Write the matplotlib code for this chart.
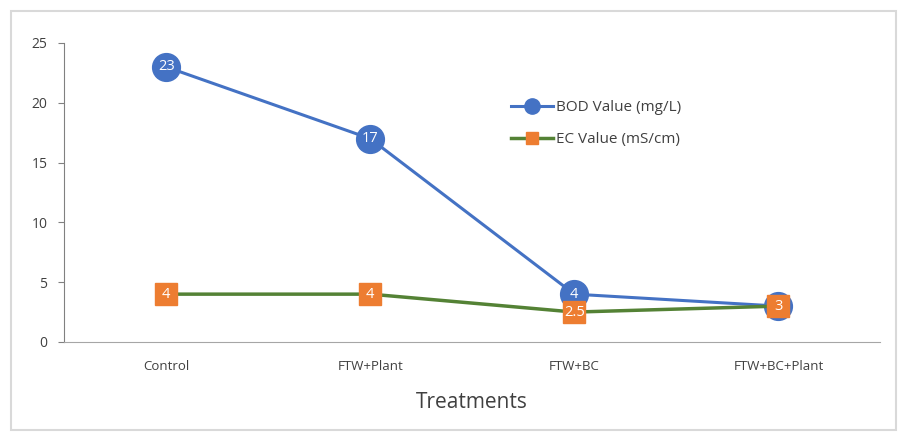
import matplotlib.pyplot as plt
from matplotlib.patches import Rectangle

treatments = ['Control', 'FTW+Plant', 'FTW+BC', 'FTW+BC+Plant']
bod = [23, 17, 4, 3]
ec = [4, 4, 2.5, 3]
ec_labels = ['4', '4', '2.5', '3']

plt.rcParams['font.family'] = ['Open Sans', 'DejaVu Sans']

fig = plt.figure(figsize=(9.03, 4.34), dpi=100)
fig.patches.append(Rectangle((0.012, 0.01), 0.98, 0.965, transform=fig.transFigure,
                             fill=False, edgecolor='#d9d9d9', linewidth=1.5))
ax = fig.add_axes([0.071, 0.212, 0.904, 0.689])

x = range(len(treatments))
ax.plot(x, bod, color='#4472C4', linewidth=2.2, marker='o', markersize=20,
        markerfacecolor='#4472C4', markeredgecolor='#4472C4', label='BOD Value (mg/L)', zorder=3)
ax.plot(x, ec, color='#548235', linewidth=2.5, marker='s', markersize=16,
        markerfacecolor='#ED7D31', markeredgecolor='#ED7D31', label='EC Value (mS/cm)', zorder=4)

for i, v in enumerate(bod):
    if i < 3:
        ax.text(i, v, str(v), color='white', fontsize=10.5, ha='center', va='center', zorder=5)
for i, v in enumerate(ec):
    ax.text(i, v, ec_labels[i], color='white', fontsize=10.5, ha='center', va='center', zorder=5)

ax.set_xlim(-0.5, 3.5)
ax.set_ylim(0, 25)
ax.set_yticks([0, 5, 10, 15, 20, 25])
ax.set_xticks(list(x))
ax.set_xticklabels(treatments)
ax.tick_params(axis='x', length=0, pad=13, labelsize=9.5, labelcolor='#404040')
ax.tick_params(axis='y', length=4, color='#808080', labelsize=10, labelcolor='#404040', pad=8)
for s in ['top', 'right']:
    ax.spines[s].set_visible(False)
ax.spines['left'].set_color('#808080')
ax.spines['bottom'].set_color('#a6a6a6')
ax.set_xlabel('Treatments', fontsize=15, color='#404040', labelpad=14)

ax.legend(loc='upper left', bbox_to_anchor=(0.53, 0.855), frameon=False, fontsize=11,
          markerscale=0.55, handlelength=2.8, labelspacing=1.1, handletextpad=0.2,
          labelcolor='#404040')

plt.savefig('out.png', dpi=100)
